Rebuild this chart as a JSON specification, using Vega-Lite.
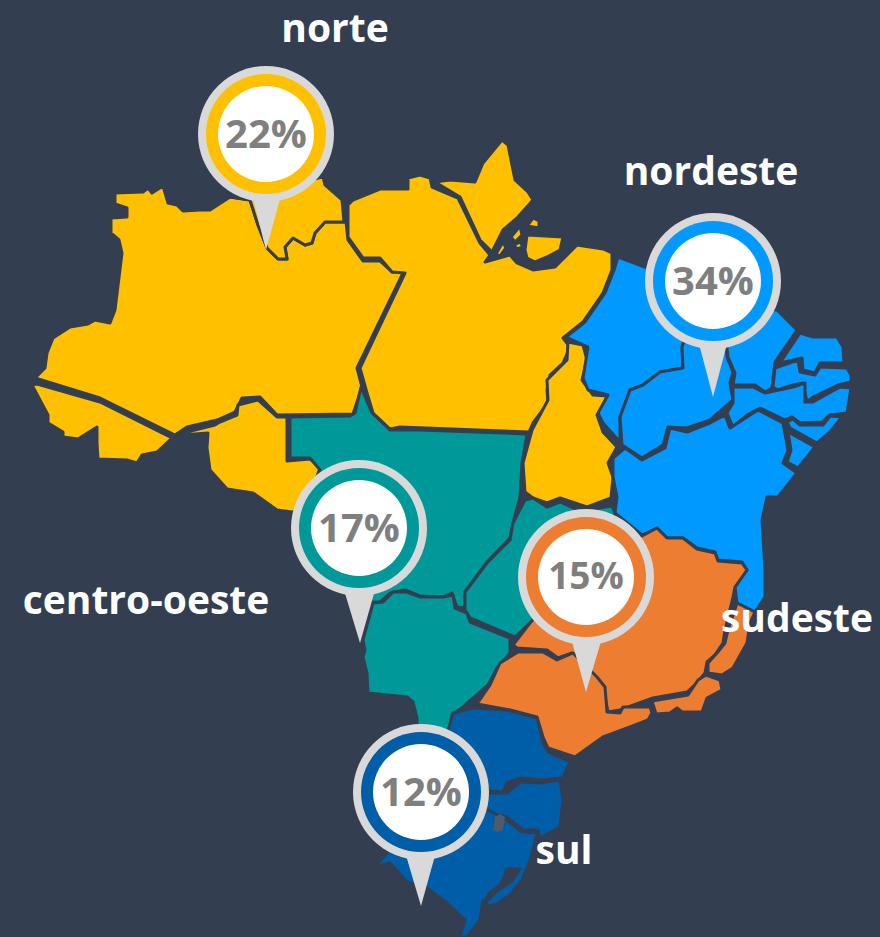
{
"$schema":"https://vega.github.io/schema/vega-lite/v6.json",
"width":880,"height":937,"padding":0,"autosize":{"type":"none"},
"background":"#333E50",
"view":{"stroke":null},
"projection":{"type":"identity","scale":1,"translate":[0,0]},
"datasets":{
"states":[
{"type":"Feature","properties":{"name":"AM","region":"norte"},"geometry":{"type":"Polygon","coordinates":[[[35,378],[45,368],[47,353],[53,338],[70,327],[88,324],[95,320],[110,323],[115,310],[122,253],[119,240],[111,233],[111,218],[127,217],[127,208],[115,204],[115,193],[143,192],[148,188],[152,193],[163,186],[168,203],[177,205],[183,211],[200,210],[210,210],[230,197],[250,200],[258,225],[267,248],[278,259],[287,259],[285,247],[293,238],[305,245],[312,243],[315,233],[325,222],[346,222],[348,240],[363,261],[380,261],[392,272],[404,271],[357,368],[362,387],[353,414],[277,415],[260,397],[242,398],[235,412],[217,420],[187,427],[175,435],[100,398],[35,378]]]}},
{"type":"Feature","properties":{"name":"RR","region":"norte"},"geometry":{"type":"Polygon","coordinates":[[[230,197],[323,177],[325,185],[342,200],[344,222],[325,222],[315,233],[312,243],[305,245],[293,238],[285,247],[287,259],[278,259],[267,248],[258,225],[250,200],[230,197]]]}},
{"type":"Feature","properties":{"name":"AC","region":"norte"},"geometry":{"type":"Polygon","coordinates":[[[32,385],[37,384],[100,402],[172,438],[157,452],[142,455],[137,463],[127,460],[98,459],[97,443],[97,427],[78,439],[63,437],[63,432],[48,423],[48,415],[40,400],[32,385]]]}},
{"type":"Feature","properties":{"name":"RO","region":"norte"},"geometry":{"type":"Polygon","coordinates":[[[182,435],[187,432],[215,425],[220,422],[237,415],[238,405],[258,400],[277,417],[287,417],[287,461],[310,459],[320,468],[305,510],[292,512],[277,510],[253,493],[227,489],[210,470],[207,448],[208,433],[182,435]]]}},
{"type":"Feature","properties":{"name":"PA","region":"norte"},"geometry":{"type":"Polygon","coordinates":[[[348,205],[353,200],[380,189],[408,189],[408,178],[420,175],[430,178],[432,187],[458,198],[480,243],[490,255],[485,262],[510,255],[517,263],[533,270],[555,267],[577,245],[603,249],[612,253],[612,270],[603,293],[583,322],[563,338],[570,347],[563,363],[550,375],[547,390],[548,403],[533,423],[529,432],[400,427],[390,429],[373,413],[367,393],[360,368],[405,273],[392,272],[380,258],[363,258],[348,237],[348,205]]]}},
{"type":"Feature","properties":{"name":"AP","region":"norte"},"geometry":{"type":"Polygon","coordinates":[[[435,182],[450,180],[475,182],[483,163],[502,140],[508,145],[515,180],[528,192],[533,200],[517,218],[503,230],[492,252],[480,240],[460,197],[435,182]]]}},
{"type":"Feature","properties":{"name":"Marajo","region":"norte"},"geometry":{"type":"Polygon","coordinates":[[[527,235],[563,237],[560,250],[547,257],[535,262],[527,258],[525,250],[527,235]]]}},
{"type":"Feature","properties":{"name":"ilha1","region":"norte"},"geometry":{"type":"Polygon","coordinates":[[[527,226],[533,218],[539,221],[539,228],[527,226]]]}},
{"type":"Feature","properties":{"name":"ilha2","region":"norte"},"geometry":{"type":"Polygon","coordinates":[[[511,237],[520,226],[522,235],[515,242],[511,237]]]}},
{"type":"Feature","properties":{"name":"ilha3","region":"norte"},"geometry":{"type":"Polygon","coordinates":[[[496,254],[503,242],[506,248],[500,256],[496,254]]]}},
{"type":"Feature","properties":{"name":"ilha4","region":"norte"},"geometry":{"type":"Polygon","coordinates":[[[514,245],[520,242],[523,247],[517,249],[514,245]]]}},
{"type":"Feature","properties":{"name":"TO","region":"norte"},"geometry":{"type":"Polygon","coordinates":[[[568,342],[583,345],[587,360],[582,380],[593,395],[607,396],[603,408],[597,415],[603,432],[617,447],[608,463],[613,477],[611,498],[587,507],[560,498],[547,503],[533,498],[525,492],[523,463],[532,430],[548,400],[547,380],[567,360],[568,342]]]}},
{"type":"Feature","properties":{"name":"MA","region":"nordeste"},"geometry":{"type":"Polygon","coordinates":[[[618,257],[645,267],[700,300],[682,347],[683,368],[660,372],[643,385],[630,390],[620,417],[620,442],[603,423],[598,413],[608,395],[588,390],[583,378],[588,347],[566,337],[585,322],[605,293],[614,270],[618,257]]]}},
{"type":"Feature","properties":{"name":"PI","region":"nordeste"},"geometry":{"type":"Polygon","coordinates":[[[700,300],[725,330],[727,357],[733,372],[730,383],[733,400],[710,420],[687,428],[668,427],[663,445],[642,458],[622,445],[620,417],[630,390],[643,385],[660,372],[683,368],[682,347],[700,300]]]}},
{"type":"Feature","properties":{"name":"CE","region":"nordeste"},"geometry":{"type":"Polygon","coordinates":[[[700,300],[777,310],[797,330],[775,362],[772,388],[765,392],[755,385],[733,385],[735,373],[728,357],[725,330],[700,300]]]}},
{"type":"Feature","properties":{"name":"RN","region":"nordeste"},"geometry":{"type":"Polygon","coordinates":[[[800,333],[813,337],[837,337],[843,347],[844,363],[820,363],[815,373],[803,370],[802,358],[780,363],[800,333]]]}},
{"type":"Feature","properties":{"name":"PB","region":"nordeste"},"geometry":{"type":"Polygon","coordinates":[[[775,368],[798,360],[800,372],[815,375],[820,367],[847,368],[851,375],[851,382],[838,385],[813,397],[807,402],[803,383],[793,385],[777,390],[773,387],[775,368]]]}},
{"type":"Feature","properties":{"name":"PE","region":"nordeste"},"geometry":{"type":"Polygon","coordinates":[[[733,387],[753,387],[765,393],[793,387],[805,383],[805,402],[813,402],[840,387],[851,388],[847,413],[830,415],[822,422],[800,423],[792,417],[785,420],[760,408],[747,415],[733,427],[727,413],[733,403],[733,387]]]}},
{"type":"Feature","properties":{"name":"AL","region":"nordeste"},"geometry":{"type":"Polygon","coordinates":[[[787,422],[793,419],[800,425],[823,425],[830,416],[842,417],[830,432],[817,443],[790,428],[787,422]]]}},
{"type":"Feature","properties":{"name":"SE","region":"nordeste"},"geometry":{"type":"Polygon","coordinates":[[[788,432],[815,447],[798,468],[787,462],[791,450],[788,432]]]}},
{"type":"Feature","properties":{"name":"BA","region":"nordeste"},"geometry":{"type":"Polygon","coordinates":[[[613,458],[625,448],[642,460],[665,448],[670,428],[687,432],[710,423],[725,415],[730,428],[747,417],[758,410],[783,423],[788,450],[783,463],[797,473],[778,497],[767,497],[762,520],[765,570],[765,597],[755,612],[737,603],[735,587],[747,570],[742,562],[718,560],[715,552],[697,548],[683,538],[667,538],[657,528],[642,535],[615,513],[617,497],[613,477],[613,458]]]}},
{"type":"Feature","properties":{"name":"MT","region":"centro-oeste"},"geometry":{"type":"Polygon","coordinates":[[[290,417],[350,416],[355,413],[361,387],[372,413],[390,430],[420,430],[527,434],[522,463],[520,497],[513,523],[510,538],[487,562],[465,592],[465,608],[457,607],[452,593],[443,597],[420,596],[405,590],[390,593],[380,602],[360,602],[340,550],[320,470],[310,458],[290,458],[290,417]]]}},
{"type":"Feature","properties":{"name":"GO","region":"centro-oeste"},"geometry":{"type":"Polygon","coordinates":[[[525,500],[533,498],[547,507],[560,502],[580,511],[612,506],[615,513],[610,540],[560,600],[530,623],[515,637],[470,618],[465,610],[465,592],[487,563],[510,540],[513,523],[525,500]]]}},
{"type":"Feature","properties":{"name":"MS","region":"centro-oeste"},"geometry":{"type":"Polygon","coordinates":[[[373,603],[383,602],[393,592],[407,592],[420,597],[443,597],[453,595],[455,608],[467,613],[470,622],[510,638],[510,653],[497,668],[488,685],[463,707],[452,715],[447,740],[417,740],[417,718],[413,702],[407,697],[368,693],[367,673],[363,657],[365,650],[363,640],[373,603]]]}},
{"type":"Feature","properties":{"name":"MG","region":"sudeste"},"geometry":{"type":"Polygon","coordinates":[[[590,530],[642,536],[657,528],[667,538],[683,538],[697,549],[715,553],[718,561],[742,563],[747,570],[735,587],[733,597],[725,630],[723,643],[715,655],[707,662],[705,673],[697,683],[687,692],[653,698],[620,710],[608,712],[603,687],[595,677],[572,653],[558,658],[547,650],[517,648],[513,645],[530,623],[560,590],[590,530]]]}},
{"type":"Feature","properties":{"name":"ES","region":"sudeste"},"geometry":{"type":"Polygon","coordinates":[[[737,603],[755,612],[750,623],[747,643],[733,668],[722,675],[708,673],[708,663],[717,653],[725,643],[728,630],[737,603]]]}},
{"type":"Feature","properties":{"name":"SP","region":"sudeste"},"geometry":{"type":"Polygon","coordinates":[[[518,652],[543,652],[557,660],[573,653],[597,677],[605,687],[607,712],[620,713],[623,707],[650,707],[652,713],[648,720],[630,727],[603,737],[575,757],[563,753],[548,748],[543,737],[537,717],[510,710],[477,704],[490,685],[500,663],[518,652]]]}},
{"type":"Feature","properties":{"name":"RJ","region":"sudeste"},"geometry":{"type":"Polygon","coordinates":[[[652,701],[688,695],[698,680],[706,675],[720,680],[722,690],[707,698],[702,712],[682,712],[677,708],[670,713],[656,714],[652,701]]]}},
{"type":"Feature","properties":{"name":"PR","region":"sul"},"geometry":{"type":"Polygon","coordinates":[[[453,713],[473,708],[507,710],[537,718],[543,743],[548,752],[570,762],[563,778],[540,780],[520,778],[507,783],[503,792],[470,790],[440,760],[453,713]]]}},
{"type":"Feature","properties":{"name":"SC","region":"sul"},"geometry":{"type":"Polygon","coordinates":[[[470,793],[507,793],[520,782],[540,783],[560,780],[563,800],[560,827],[540,838],[538,830],[523,830],[507,817],[470,808],[470,793]]]}},
{"type":"Feature","properties":{"name":"RS","region":"sul"},"geometry":{"type":"Polygon","coordinates":[[[470,810],[488,810],[507,820],[522,832],[537,833],[533,850],[530,860],[522,880],[510,895],[497,904],[489,906],[483,900],[480,920],[467,937],[460,937],[465,920],[447,903],[427,888],[407,882],[390,863],[375,867],[387,853],[400,820],[470,810]]]}}
],
"lakes":[
{"type":"Feature","properties":{"name":"Patos","region":"lagoa"},"geometry":{"type":"Polygon","coordinates":[[[505,868],[510,867],[522,868],[513,882],[497,893],[487,903],[484,901],[488,892],[498,885],[503,877],[505,868]]]}},
{"type":"Feature","properties":{"name":"Lago","region":"lago"},"geometry":{"type":"Polygon","coordinates":[[[495,817],[500,814],[505,817],[503,830],[497,832],[493,830],[495,817]]]}}
],
"tips":[
{"type":"Feature","properties":{"region":"norte"},"geometry":{"type":"Polygon","coordinates":[[[252,195],[281,195],[266,250],[252,195]]]}},
{"type":"Feature","properties":{"region":"nordeste"},"geometry":{"type":"Polygon","coordinates":[[[698,340],[728,340],[713,397],[698,340]]]}},
{"type":"Feature","properties":{"region":"centro-oeste"},"geometry":{"type":"Polygon","coordinates":[[[344,590],[375,590],[360,643],[344,590]]]}},
{"type":"Feature","properties":{"region":"sudeste"},"geometry":{"type":"Polygon","coordinates":[[[571,638],[602,638],[586,692],[571,638]]]}},
{"type":"Feature","properties":{"region":"sul"},"geometry":{"type":"Polygon","coordinates":[[[405,852],[436,852],[421,906],[405,852]]]}}
],
"pins":[
{"region":"norte","lon":266,"lat":134,"pct":"22%"},
{"region":"nordeste","lon":713,"lat":281,"pct":"34%"},
{"region":"centro-oeste","lon":359,"lat":528,"pct":"17%"},
{"region":"sudeste","lon":586,"lat":577,"pct":"15%"},
{"region":"sul","lon":421,"lat":792,"pct":"12%"}
],
"names":[
{"name":"norte","lon":335,"lat":28},
{"name":"nordeste","lon":711,"lat":171},
{"name":"centro-oeste","lon":146,"lat":600},
{"name":"sudeste","lon":797,"lat":618},
{"name":"sul","lon":564,"lat":850}
]
},
"layer":[
{"data":{"name":"states"},"mark":{"type":"geoshape","stroke":"#333E50","strokeWidth":3,"strokeJoin":"round"},
 "encoding":{"fill":{"field":"properties.region","type":"nominal","legend":null,"scale":{"domain":["norte","nordeste","centro-oeste","sudeste","sul","lagoa","lago"],"range":["#FFC000","#0099FF","#009999","#ED7D31","#005DA8","#333E50","#4F5A6B"]}}}},
{"data":{"name":"lakes"},"mark":{"type":"geoshape","strokeWidth":0},
 "encoding":{"fill":{"field":"properties.region","type":"nominal","legend":null,"scale":{"domain":["norte","nordeste","centro-oeste","sudeste","sul","lagoa","lago"],"range":["#FFC000","#0099FF","#009999","#ED7D31","#005DA8","#333E50","#4F5A6B"]}}}},
{"data":{"name":"tips"},"mark":{"type":"geoshape","fill":"#D9D9D9","strokeWidth":0},"encoding":{}},
{"data":{"name":"pins"},"mark":{"type":"circle","size":18496,"opacity":1,"fill":"#D9D9D9"},
 "encoding":{"longitude":{"field":"lon","type":"quantitative"},"latitude":{"field":"lat","type":"quantitative"}}},
{"data":{"name":"pins"},"mark":{"type":"circle","size":14400,"opacity":1},
 "encoding":{"longitude":{"field":"lon","type":"quantitative"},"latitude":{"field":"lat","type":"quantitative"},
 "fill":{"field":"region","type":"nominal","legend":null,"scale":{"domain":["norte","nordeste","centro-oeste","sudeste","sul","lagoa","lago"],"range":["#FFC000","#0099FF","#009999","#ED7D31","#005DA8","#333E50","#4F5A6B"]}}}},
{"data":{"name":"pins"},"mark":{"type":"circle","size":9216,"opacity":1,"fill":"#FFFFFF"},
 "encoding":{"longitude":{"field":"lon","type":"quantitative"},"latitude":{"field":"lat","type":"quantitative"}}},
{"data":{"name":"pins"},"transform":[{"filter":"datum.pct !== '15%'"}],"mark":{"type":"text","font":"Open Sans","fontWeight":"bold","fontSize":40,"fill":"#7F7F7F","align":"center","baseline":"middle","dy":2},
 "encoding":{"longitude":{"field":"lon","type":"quantitative"},"latitude":{"field":"lat","type":"quantitative"},"text":{"field":"pct"}}},
{"data":{"name":"pins"},"transform":[{"filter":"datum.pct === '15%'"}],"mark":{"type":"text","font":"Open Sans","fontWeight":"bold","fontSize":37,"fill":"#7F7F7F","align":"center","baseline":"middle","dy":1},
 "encoding":{"longitude":{"field":"lon","type":"quantitative"},"latitude":{"field":"lat","type":"quantitative"},"text":{"field":"pct"}}},
{"data":{"name":"names"},"mark":{"type":"text","font":"Open Sans","fontWeight":"bold","fontSize":39,"fill":"#FFFFFF","align":"center","baseline":"middle","dy":2},
 "encoding":{"longitude":{"field":"lon","type":"quantitative"},"latitude":{"field":"lat","type":"quantitative"},"text":{"field":"name"}}}
]
}
